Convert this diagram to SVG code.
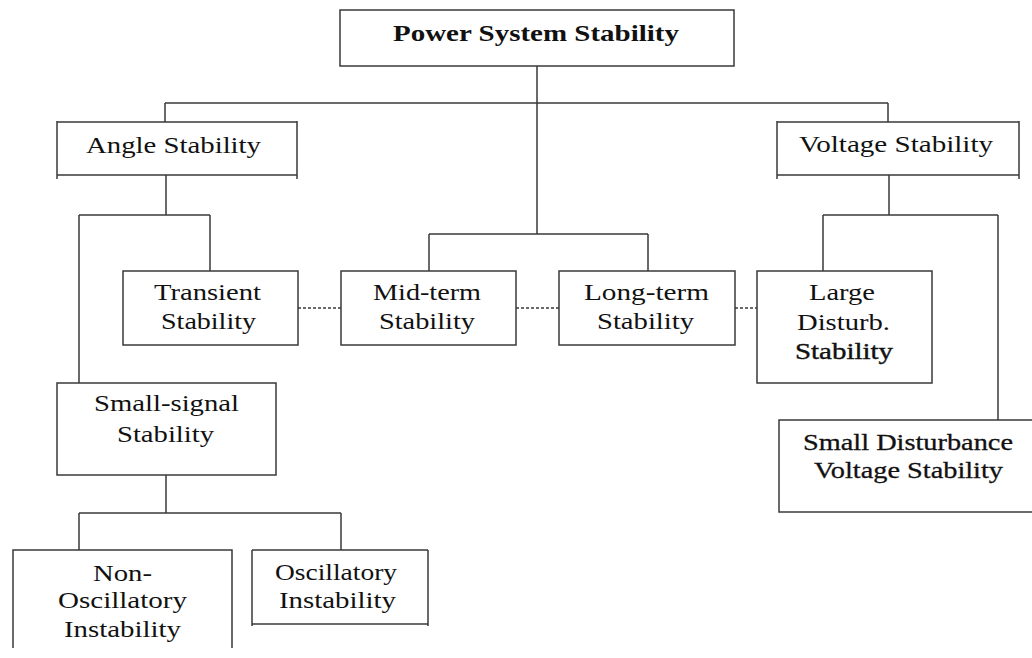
<svg xmlns="http://www.w3.org/2000/svg" width="1032" height="658" viewBox="0 0 1032 658">
<style>
.b{fill:none;stroke:#3a3a3a;stroke-width:1.5}
.c{fill:none;stroke:#3a3a3a;stroke-width:1.5}
.d{fill:none;stroke:#3a3a3a;stroke-width:1.3;stroke-dasharray:3 2}
.t{font-family:"Liberation Serif","Times New Roman",serif;font-size:24px;fill:#111}
.tb{font-family:"Liberation Serif","Times New Roman",serif;font-size:23px;font-weight:bold;fill:#111}
</style>
<rect width="1032" height="658" fill="#fff"/>
<g id="connectors">
<path class="c" d="M537,66V234M165,103H888M165,103V122M888,103V122"/>
<path class="c" d="M166,175V215M79,215H210M79,215V383M210,215V271"/>
<path class="c" d="M429,234H648M429,234V271M648,234V271"/>
<path class="c" d="M889,175V215M823,215H998M823,215V271M998,215V420"/>
<path class="c" d="M166,475V513M79,513H341M79,513V550M341,513V550"/>
<path class="d" d="M298,308H341M516,308H559M735,308H757"/>
</g>
<g id="power">
<rect class="b" x="340" y="10" width="394" height="56"/>
<text class="tb" x="393" y="41" textLength="286" lengthAdjust="spacingAndGlyphs">Power System Stability</text>
</g>
<g id="angle">
<path class="b" d="M57,122H297M57,175H297M57,121V179M297,121V179"/>
<text class="t" x="86" y="153" textLength="175" lengthAdjust="spacingAndGlyphs">Angle Stability</text>
</g>
<g id="voltage">
<path class="b" d="M777,122H1019M777,175H1019M777,121V179M1019,121V179"/>
<text class="t" x="799" y="152" textLength="194" lengthAdjust="spacingAndGlyphs">Voltage Stability</text>
</g>
<g id="transient">
<rect class="b" x="123" y="271" width="175" height="74"/>
<text class="t" x="154" y="300" textLength="107" lengthAdjust="spacingAndGlyphs">Transient</text>
<text class="t" x="161" y="329" textLength="95" lengthAdjust="spacingAndGlyphs">Stability</text>
</g>
<g id="midterm">
<rect class="b" x="341" y="271" width="175" height="74"/>
<text class="t" x="373" y="300" textLength="108" lengthAdjust="spacingAndGlyphs">Mid-term</text>
<text class="t" x="379" y="329" textLength="96" lengthAdjust="spacingAndGlyphs">Stability</text>
</g>
<g id="longterm">
<rect class="b" x="559" y="271" width="176" height="74"/>
<text class="t" x="584" y="300" textLength="125" lengthAdjust="spacingAndGlyphs">Long-term</text>
<text class="t" x="597" y="329" textLength="97" lengthAdjust="spacingAndGlyphs">Stability</text>
</g>
<g id="large">
<rect class="b" x="757" y="271" width="175" height="112"/>
<text class="t" x="809" y="300" textLength="66" lengthAdjust="spacingAndGlyphs">Large</text>
<text class="t" x="797" y="330" textLength="93" lengthAdjust="spacingAndGlyphs">Disturb.</text>
<text class="t" x="795" y="359" textLength="98" lengthAdjust="spacingAndGlyphs" style="stroke:#111;stroke-width:0.4">Stability</text>
</g>
<g id="smalldist">
<rect class="b" x="779" y="420" width="262" height="92"/>
<text class="t" x="803" y="450" textLength="210" lengthAdjust="spacingAndGlyphs" style="stroke:#111;stroke-width:0.3">Small Disturbance</text>
<text class="t" x="814" y="478" textLength="189" lengthAdjust="spacingAndGlyphs" style="stroke:#111;stroke-width:0.3">Voltage Stability</text>
</g>
<g id="smallsignal">
<rect class="b" x="57" y="383" width="219" height="92"/>
<text class="t" x="94" y="411" textLength="145" lengthAdjust="spacingAndGlyphs">Small-signal</text>
<text class="t" x="117" y="442" textLength="97" lengthAdjust="spacingAndGlyphs">Stability</text>
</g>
<g id="nonosc">
<path class="b" d="M13,648V550H232V648"/>
<text class="t" x="93" y="581" textLength="59" lengthAdjust="spacingAndGlyphs">Non-</text>
<text class="t" x="58" y="608" textLength="129" lengthAdjust="spacingAndGlyphs">Oscillatory</text>
<text class="t" x="64" y="637" textLength="117" lengthAdjust="spacingAndGlyphs">Instability</text>
</g>
<g id="osc">
<path class="b" d="M252,550H428M252,624H428M252,550V626M428,550V626"/>
<text class="t" x="275" y="580" textLength="122" lengthAdjust="spacingAndGlyphs">Oscillatory</text>
<text class="t" x="279" y="608" textLength="117" lengthAdjust="spacingAndGlyphs">Instability</text>
</g>
</svg>
